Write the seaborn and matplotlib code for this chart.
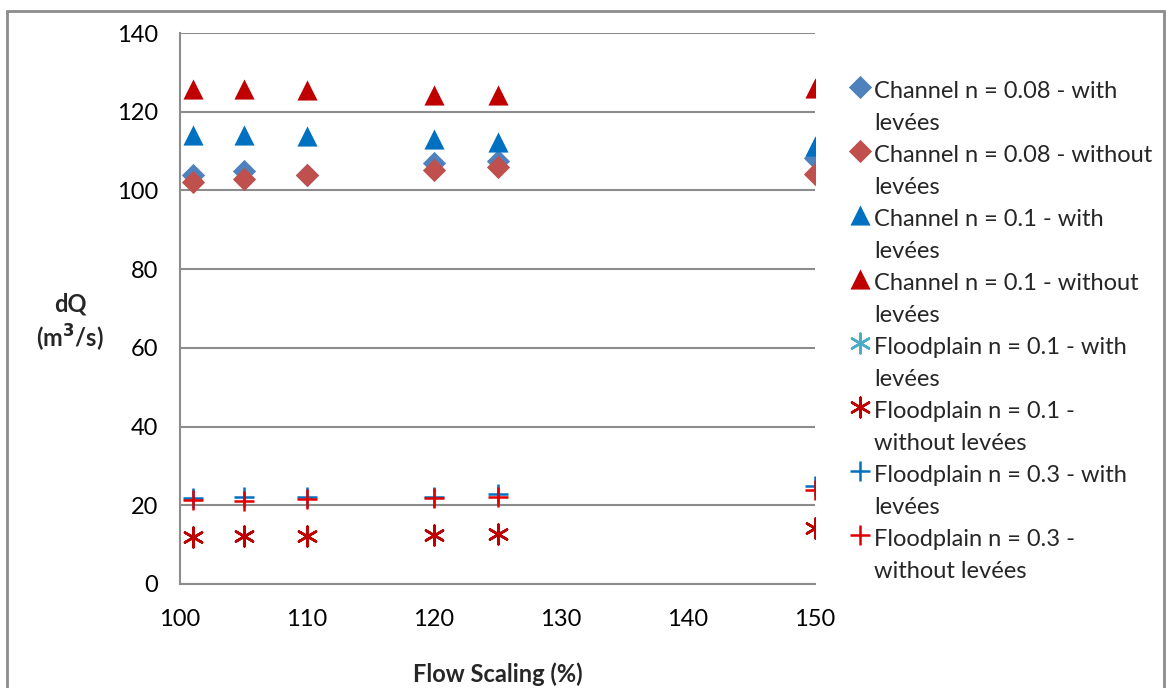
import matplotlib
matplotlib.use('Agg')
import matplotlib.pyplot as plt
import seaborn as sns
from matplotlib.patches import Rectangle
from matplotlib.collections import PathCollection
from matplotlib.legend_handler import HandlerPathCollection

# Flow scaling (%) values
flow_scaling = [101, 105, 110, 120, 125, 150]

# dQ (m3/s) per series
ch008_with = [103.9, 105.0, 104.0, 106.9, 107.5, 108.3]
ch008_without = [102.2, 102.9, 103.9, 105.2, 106.0, 104.1]
ch01_with = [114.0, 114.0, 113.8, 113.1, 112.4, 111.2]
ch01_without = [125.8, 125.7, 125.4, 124.3, 124.3, 126.1]
fp01_with = [11.9, 12.3, 12.3, 12.4, 12.6, 14.2]
fp01_without = [11.9, 12.3, 12.3, 12.4, 12.6, 14.2]
fp03_with = [21.9, 22.2, 22.2, 22.2, 22.9, 25.0]
fp03_without = [21.3, 21.2, 21.5, 21.8, 22.2, 23.9]

labels = [
    'Channel n = 0.08 - with\nlevées',
    'Channel n = 0.08 - without\nlevées',
    'Channel n = 0.1 - with\nlevées',
    'Channel n = 0.1 - without\nlevées',
    'Floodplain n = 0.1 - with\nlevées',
    'Floodplain n = 0.1 -\nwithout levées',
    'Floodplain n = 0.3 - with\nlevées',
    'Floodplain n = 0.3 -\nwithout levées',
]

series = [ch008_with, ch008_without, ch01_with, ch01_without,
          fp01_with, fp01_without, fp03_with, fp03_without]
colors = ['#4F81BD', '#C0504D', '#0070C0', '#C00000',
          '#4BACC6', '#C00000', '#0070C0', '#E00000']
markers = ['D', 'D', '^', '^', (6, 2, 0), (6, 2, 0), '+', '+']
sizes = [140, 140, 210, 210, 200, 200, 200, 200]

sns.set_style('white')
plt.rcParams['font.family'] = ['Lato', 'DejaVu Sans']
FS = 17

fig = plt.figure(figsize=(11.75, 6.88), dpi=100)
ax = fig.add_axes([180 / 1175, 1 - 584 / 688, 635 / 1175, 551 / 688])

for vals, lab, c, m, s in zip(series, labels, colors, markers, sizes):
    lw = 0 if m in ('D', '^') else 1.8
    sns.scatterplot(x=flow_scaling, y=vals, ax=ax, marker=m, color=c,
                    s=s, linewidth=lw, label=lab, zorder=3)

ax.set_xlim(100, 150)
ax.set_ylim(0, 140)
ax.set_xticks(range(100, 151, 10))
ax.set_yticks(range(0, 141, 20))
ax.yaxis.grid(True, color='#8C8C8C', linewidth=1.5)
ax.xaxis.grid(False)
ax.set_axisbelow(True)
for side in ['top', 'right']:
    ax.spines[side].set_visible(False)
for side in ['left', 'bottom']:
    ax.spines[side].set_color('#8C8C8C')
    ax.spines[side].set_linewidth(1.5)
ax.tick_params(axis='both', direction='out', length=6, width=1.5,
               color='#8C8C8C', labelsize=FS, labelcolor='black')
ax.tick_params(axis='x', pad=12)
ax.tick_params(axis='y', pad=10)

ax.set_xlabel('Flow Scaling (%)', fontsize=FS, fontweight='bold', labelpad=23)
fig.text(70 / 1175, 1 - 323 / 688, 'dQ\n(m$^\\mathbf{3}$/s)', fontsize=FS,
         fontweight='bold', ha='center', va='center', linespacing=1.3)

leg = ax.legend(loc='upper left', bbox_to_anchor=(839 / 1175, 1 - 72 / 688),
                bbox_transform=fig.transFigure, frameon=False, fontsize=FS,
                handletextpad=0.1, handlelength=1.0, labelspacing=0.47,
                borderaxespad=0, scatterpoints=1,
                handler_map={PathCollection: HandlerPathCollection(yoffsets=[1.75])})
for t in leg.get_texts():
    t.set_linespacing(1.64)

fig.patches.append(Rectangle((7 / 1175, -0.01), 1157 / 1175, 1 - 11 / 688 + 0.01,
                             transform=fig.transFigure, fill=False,
                             edgecolor='#8C8C8C', linewidth=2))

fig.savefig('out.png', dpi=100)
